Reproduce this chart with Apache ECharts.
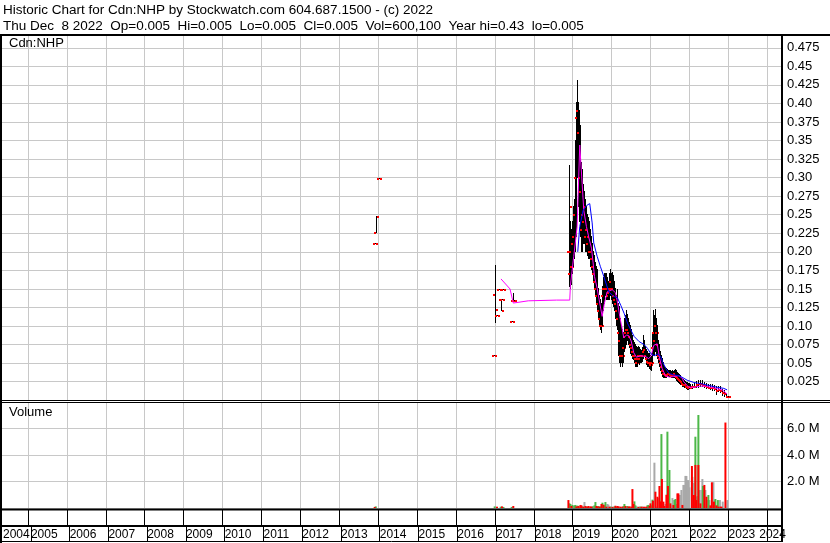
<!DOCTYPE html>
<html><head><meta charset="utf-8">
<script src="https://cdn.jsdelivr.net/npm/echarts@6/dist/echarts.min.js"></script>
<style>html,body{margin:0;padding:0;background:#fff}#c{width:830px;height:543px}</style>
</head><body><div id="c"></div>
<script>
// ---------- texts ----------
const headerLine1 = 'Historic Chart for Cdn:NHP by Stockwatch.com 604.687.1500 - (c) 2022';
const headerLine2 = 'Thu Dec  8 2022  Op=0.005  Hi=0.005  Lo=0.005  Cl=0.005  Vol=600,100  Year hi=0.43  lo=0.005';
const priceTitle = 'Cdn:NHP';
const volumeTitle = 'Volume';

// ---------- axes ----------
const yearTicks = [2005,2006,2007,2008,2009,2010,2011,2012,2013,2014,2015,2016,2017,2018,2019,2020,2021,2022,2023,2024];
const yearLabelPos = [2004.2804,2005,2006,2007,2008,2009,2010,2011,2012,2013,2014,2015,2016,2017,2018,2019,2020,2021,2022,2023,2023.79];
const X_MIN = 2004.2804, X_MAX = 2024.378;
const PRICE_MAX = 0.49225, PRICE_STEP = 0.025;
const VOL_MAX = 8e6, VOL_STEP = 2e6;

// ---------- price bars: [decimal year, open, high, low, close] ----------
const priceBars = [
[2013.910,.21,.21,.21,.21],[2013.938,.225,.2475,.225,.2475],[2014.021,.298,.298,.298,.298],
[2016.976,.06,.06,.06,.06],[2016.994,.142,.181,.104,.121],[2017.053,.113,.113,.113,.113],
[2017.112,.149,.149,.149,.149],[2017.148,.135,.135,.12,.12],[2017.182,.135,.135,.135,.135],
[2017.220,.149,.149,.149,.149],[2017.431,.105,.105,.105,.105],[2017.472,.134,.143,.134,.134],
[2017.503,.134,.134,.134,.134],
[2018.915,.2,.316,.153,.26],[2018.941,.17,.24,.15,.2],[2018.967,.2,.23,.155,.18],[2018.992,.18,.24,.17,.21],
[2019.018,.21,.26,.18,.22],[2019.044,.22,.27,.19,.25],[2019.069,.25,.35,.2,.32],[2019.095,.3,.40,.22,.38],
[2019.121,.38,.43,.30,.39],[2019.146,.39,.40,.26,.36],[2019.172,.36,.39,.24,.30],[2019.198,.3,.37,.22,.28],
[2019.224,.28,.32,.20,.23],[2019.249,.23,.31,.20,.25],[2019.275,.25,.29,.21,.24],[2019.301,.24,.28,.21,.26],
[2019.326,.26,.27,.20,.22],[2019.352,.22,.26,.20,.23],[2019.378,.23,.25,.195,.21],[2019.403,.21,.245,.19,.22],
[2019.429,.22,.24,.19,.20],[2019.455,.2,.23,.18,.2],[2019.481,.2,.22,.175,.19],[2019.506,.19,.21,.17,.18],
[2019.532,.18,.20,.16,.17],[2019.558,.17,.195,.15,.16],[2019.583,.16,.185,.14,.15],[2019.609,.15,.18,.13,.14],
[2019.635,.14,.175,.12,.13],[2019.660,.13,.15,.11,.12],[2019.686,.12,.14,.10,.11],[2019.712,.11,.135,.095,.10],
[2019.738,.10,.13,.09,.10],[2019.763,.10,.153,.10,.14],[2019.789,.14,.165,.12,.15],[2019.815,.15,.17,.13,.15],
[2019.840,.15,.17,.14,.15],[2019.866,.15,.17,.135,.15],[2019.892,.15,.165,.135,.14],[2019.917,.14,.16,.135,.145],
[2019.943,.145,.17,.135,.15],[2019.969,.15,.176,.14,.16],[2019.995,.16,.17,.135,.15],[2020.020,.15,.171,.13,.15],
[2020.046,.15,.167,.125,.14],[2020.072,.14,.16,.12,.135],[2020.097,.135,.15,.11,.13],[2020.123,.13,.14,.10,.12],
[2020.149,.12,.149,.095,.11],[2020.174,.11,.13,.06,.09],[2020.200,.09,.126,.05,.08],[2020.226,.08,.11,.045,.06],
[2020.251,.06,.10,.05,.06],[2020.277,.06,.095,.045,.06],[2020.303,.06,.09,.05,.07],[2020.328,.07,.11,.065,.085],
[2020.354,.085,.113,.07,.09],[2020.380,.09,.12,.075,.095],[2020.406,.095,.115,.08,.095],[2020.431,.095,.11,.075,.09],
[2020.457,.09,.104,.07,.085],[2020.483,.085,.10,.063,.075],[2020.508,.075,.095,.06,.07],[2020.534,.07,.086,.055,.065],
[2020.560,.065,.08,.054,.06],[2020.585,.06,.077,.05,.06],[2020.611,.06,.075,.045,.055],[2020.637,.055,.072,.045,.05],
[2020.662,.05,.07,.045,.055],[2020.688,.055,.072,.05,.06],[2020.714,.06,.07,.048,.055],[2020.740,.055,.068,.05,.06],
[2020.765,.06,.066,.05,.06],[2020.791,.06,.07,.052,.06],[2020.817,.06,.086,.056,.065],[2020.842,.065,.08,.06,.068],
[2020.868,.068,.072,.055,.06],[2020.894,.06,.068,.048,.055],[2020.919,.055,.065,.045,.052],[2020.945,.052,.063,.045,.05],
[2020.971,.05,.062,.042,.05],[2020.997,.05,.06,.041,.048],[2021.022,.048,.058,.04,.05],[2021.048,.05,.09,.05,.07],
[2021.074,.07,.12,.06,.09],[2021.099,.09,.113,.06,.08],[2021.125,.08,.122,.065,.10],[2021.151,.10,.11,.06,.09],
[2021.176,.09,.10,.055,.075],[2021.202,.075,.08,.05,.06],[2021.228,.06,.075,.045,.055],[2021.253,.055,.065,.04,.05],
[2021.279,.05,.06,.035,.045],[2021.305,.045,.055,.032,.04],[2021.330,.04,.05,.03,.035],[2021.356,.035,.045,.03,.035],
[2021.382,.035,.043,.03,.034],[2021.407,.034,.042,.03,.033],[2021.433,.033,.041,.031,.034],[2021.459,.034,.04,.032,.035],
[2021.485,.035,.04,.032,.035],[2021.510,.035,.039,.031,.034],[2021.536,.034,.038,.03,.033],[2021.562,.033,.04,.03,.034],
[2021.587,.034,.038,.03,.034],[2021.613,.034,.04,.03,.035],[2021.639,.035,.041,.028,.033],[2021.664,.033,.04,.026,.032],
[2021.690,.032,.037,.025,.03],[2021.716,.03,.035,.023,.028],[2021.741,.028,.034,.022,.027],[2021.767,.027,.033,.021,.026],
[2021.793,.026,.03,.02,.024],[2021.818,.024,.028,.018,.022],[2021.844,.022,.027,.018,.021],[2021.870,.021,.026,.017,.02],
[2021.896,.02,.025,.016,.02],[2021.921,.02,.023,.015,.018],[2021.947,.018,.023,.014,.018],[2021.972,.018,.022,.014,.017],
[2021.998,.017,.022,.015,.018],[2022.024,.018,.021,.015,.017],[2022.075,.017,.021,.015,.018],[2022.126,.018,.022,.016,.018],
[2022.178,.018,.025,.016,.02],[2022.229,.02,.026,.017,.022],[2022.281,.022,.026,.018,.022],[2022.332,.022,.026,.0175,.02],
[2022.383,.02,.023,.016,.019],[2022.435,.019,.022,.015,.018],[2022.486,.018,.021,.015,.017],[2022.538,.017,.021,.014,.017],
[2022.589,.017,.02,.013,.016],[2022.640,.016,.019,.012,.015],[2022.692,.015,.018,.007,.013],[2022.743,.013,.0175,.011,.014],
[2022.795,.014,.0175,.0095,.012],[2022.846,.012,.014,.006,.01],[2022.897,.01,.012,.005,.008],[2022.950,.008,.008,.004,.005],
[2022.989,.005,.005,.005,.005]
];

// ---------- moving averages: [decimal year, value] ----------
const maShort = [
[2017.156,.1635],[2017.388,.150],[2017.472,.131],[2017.857,.134],[2018.587,.135],[2018.923,.135],[2018.941,.155],
[2019.026,.194],[2019.113,.234],[2019.180,.344],[2019.242,.292],[2019.283,.256],[2019.352,.234],[2019.411,.220],
[2019.481,.205],[2019.524,.185],[2019.558,.167],[2019.627,.151],[2019.694,.131],[2019.756,.113],[2019.815,.131],
[2019.884,.146],[2020.013,.149],[2020.097,.145],[2020.157,.130],[2020.208,.113],[2020.269,.097],[2020.311,.084],
[2020.380,.088],[2020.439,.087],[2020.501,.080],[2020.568,.064],[2020.637,.058],[2020.740,.060],[2020.868,.059],
[2020.953,.056],[2021.015,.060],[2021.082,.074],[2021.169,.076],[2021.236,.056],[2021.297,.043],[2021.382,.033],
[2021.493,.031],[2021.596,.032],[2021.724,.033],[2021.811,.030],[2021.852,.025],[2021.981,.0175],[2022.110,.0175],
[2022.281,.019],[2022.410,.019],[2022.539,.0175],[2022.667,.016],[2022.839,.014],[2022.968,.0085]
];
const maLong = [
[2019.129,.200],[2019.180,.234],[2019.267,.256],[2019.370,.263],[2019.437,.265],[2019.499,.239],[2019.540,.212],
[2019.627,.194],[2019.712,.180],[2019.797,.167],[2019.925,.146],[2020.054,.140],[2020.149,.138],[2020.234,.128],
[2020.321,.117],[2020.406,.104],[2020.491,.095],[2020.578,.086],[2020.707,.079],[2020.835,.075],[2020.920,.070],
[2021.005,.063],[2021.092,.060],[2021.177,.062],[2021.262,.059],[2021.305,.052],[2021.390,.043],[2021.477,.036],
[2021.606,.034],[2021.735,.033],[2021.811,.031],[2021.940,.027],[2022.110,.024],[2022.326,.022],[2022.495,.020],
[2022.711,.0175],[2022.881,.016],[2022.968,.014]
];

// ---------- volume (millions): [decimal year, volume] ----------
const volFlat = [
[2019.018,.15],[2019.172,.1],[2019.301,.45],[2019.429,.1],[2019.532,.15],[2019.892,.3],[2019.917,.25],[2019.995,.12],
[2020.046,.1],[2020.200,.1],[2020.251,.08],[2020.380,.12],[2020.483,.1],[2020.637,.12],[2020.662,.1],[2020.714,.12],
[2020.791,.12],[2021.099,3.42],[2021.151,.1],[2021.202,.75],[2021.382,.3],[2021.536,.2],[2021.562,.75],[2021.664,.3],
[2021.741,.98],[2021.767,.98],[2021.793,1.36],[2021.844,1.74],[2021.870,1.74],[2021.896,2.42],[2021.921,2.42],
[2021.947,2.1],[2021.972,2.1],[2021.998,1.56],[2022.063,2.3],[2022.075,2.35],[2022.101,1.9],[2022.178,.85],
[2022.204,.9],[2022.255,1.36],[2022.306,1.36],[2022.332,2.19],[2022.409,1.36],[2022.461,.6],[2022.512,.6],
[2022.615,1.95],[2022.640,.6],[2022.782,.6],[2022.855,.48],[2022.975,.6]
];
const volUp = [
[2013.938,.12],[2016.994,.12],[2017.148,.1],[2017.220,.08],[2017.431,.08],
[2018.915,.35],[2018.941,.3],[2018.992,.23],[2019.044,.2],[2019.069,.23],[2019.121,.18],[2019.249,.12],[2019.352,.12],
[2019.506,.12],[2019.558,.2],[2019.583,.45],[2019.660,.15],[2019.712,.12],[2019.763,.4],[2019.815,.2],[2019.840,.45],
[2019.969,.1],[2020.072,.12],[2020.123,.1],[2020.303,.15],[2020.328,.3],[2020.406,.15],[2020.585,.5],[2020.611,.2],
[2020.740,.1],[2020.919,.2],[2020.945,.23],[2021.022,.2],[2021.048,.63],[2021.279,5.58],[2021.433,5.76],[2021.485,2.87],
[2021.613,.6],[2021.639,.68],[2022.152,5.38],[2022.229,7.02],[2022.345,1.66],[2022.358,1.66],[2022.486,.98],
[2022.666,.68],[2022.730,.6]
];
const volDown = [
[2013.910,.08],[2017.053,.1],[2017.182,.12],[2017.472,.15],
[2018.889,.6],[2018.967,.15],[2019.095,.12],[2019.146,.15],[2019.198,.23],[2019.224,.2],[2019.275,.1],[2019.326,.15],
[2019.378,.1],[2019.403,.15],[2019.455,.12],[2019.481,.1],[2019.609,.15],[2019.635,.12],[2019.686,.1],[2019.738,.3],
[2019.789,.25],[2019.866,.1],[2019.943,.1],[2020.020,.08],[2020.097,.17],[2020.149,.15],[2020.174,.12],[2020.226,.1],
[2020.277,.1],[2020.354,.15],[2020.431,.1],[2020.457,.12],[2020.508,.1],[2020.534,1.43],[2020.560,.3],[2020.688,.08],
[2020.765,.1],[2020.817,.08],[2020.842,.1],[2020.868,.05],[2020.894,.1],[2020.971,.15],[2020.997,.35],[2021.061,.55],
[2021.125,1.23],[2021.176,.85],[2021.228,1.66],[2021.253,.5],[2021.292,2.19],[2021.330,.48],[2021.356,.15],
[2021.407,1.0],[2021.446,1.66],[2021.510,.35],[2021.587,.23],[2021.690,1.1],[2021.716,1.1],[2021.818,.23],
[2022.063,3.17],[2022.113,.98],[2022.152,3.25],[2022.178,.6],[2022.229,3.25],[2022.281,.35],[2022.383,1.74],
[2022.435,.85],[2022.538,.2],[2022.576,1.94],[2022.628,.48],[2022.692,.2],[2022.743,.1],[2022.795,.1],[2022.822,.1],
[2022.924,6.45]
];

// ---------- chart ----------
const FONT = '"Liberation Sans", Arial, sans-serif';
const GRID_GRAY = '#c8c8c8';
const TXT = '#000';
const chart = echarts.init(document.getElementById('c'), null, {renderer: 'canvas'});

function priceLabel(v) {
  if (v <= 0) return '';
  let s = v.toFixed(3);
  if (s.endsWith('0')) s = s.slice(0, -1);
  return s;
}
function volLabel(v) {
  if (v <= 0 || v >= VOL_MAX) return '';
  return (v / 1e6).toFixed(1) + ' M';
}
const toVol = arr => arr.map(d => [d[0], d[1] * 1e6]);

function renderOHLC(params, api) {
  const t = api.value(0);
  const o = api.coord([t, api.value(1)]);
  const h = api.coord([t, api.value(2)]);
  const l = api.coord([t, api.value(3)]);
  const c = api.coord([t, api.value(4)]);
  const x = Math.round(h[0]) + 0.5;
  return {
    type: 'group',
    children: [
      {type: 'rect', shape: {x: x - 0.5, y: Math.round(h[1]) - 1, width: 1, height: Math.max(1, Math.round(l[1]) - Math.round(h[1]) + 1)}, style: {fill: '#000'}},
      {type: 'rect', shape: {x: x - 2.5, y: Math.round(o[1]) - 1, width: 2, height: 2}, style: {fill: '#ff0000'}},
      {type: 'rect', shape: {x: x + 0.5, y: Math.round(c[1]) - 1, width: 2, height: 2}, style: {fill: '#ff0000'}}
    ]
  };
}

const xBase = (gi, extra) => Object.assign({
  type: 'value', gridIndex: gi, min: X_MIN, max: X_MAX,
  axisLine: {show: false}, axisLabel: {show: false},
  axisTick: {show: false, customValues: yearTicks},
  splitLine: {show: true, lineStyle: {color: GRID_GRAY, width: 1}}
}, extra || {});

function hline(y, x1, x2, w) {
  return {type: 'line', silent: true, z: 100, shape: {x1: x1, y1: y, x2: x2, y2: y}, style: {stroke: '#000', lineWidth: w}};
}
function vline(x, y1, y2, w) {
  return {type: 'line', silent: true, z: 100, shape: {x1: x, y1: y1, x2: x, y2: y2}, style: {stroke: '#000', lineWidth: w}};
}

const option = {
  animation: false,
  backgroundColor: '#fff',
  textStyle: {fontFamily: FONT},
  grid: [
    {left: 0, width: 782, top: 35, height: 365.25},
    {left: 0, width: 782, top: 402, height: 106},
    {left: 0, width: 782, top: 510, height: 16},
    {left: 0, width: 782, top: 527, height: 14.5}
  ],
  xAxis: [
    xBase(0),
    xBase(1),
    xBase(2, {splitLine: {show: true, lineStyle: {color: '#000', width: 1}}}),
    xBase(3, {
      position: 'bottom',
      splitLine: {show: true, lineStyle: {color: '#000', width: 1}},
      axisLabel: {show: true, inside: true, customValues: yearLabelPos, margin: 1, align: 'left', verticalAlign: 'bottom',
        color: TXT, fontSize: 12, fontFamily: FONT,
        formatter: v => String(Math.round(v))}
    })
  ],
  yAxis: [
    {type: 'value', gridIndex: 0, position: 'right', min: 0, max: PRICE_MAX, interval: PRICE_STEP,
      axisLine: {show: false}, axisTick: {show: false},
      axisLabel: {color: TXT, fontSize: 13, fontFamily: FONT, margin: 5, showMaxLabel: false, formatter: priceLabel},
      splitLine: {show: true, lineStyle: {color: GRID_GRAY, width: 1}}},
    {type: 'value', gridIndex: 1, position: 'right', min: 0, max: VOL_MAX, interval: VOL_STEP,
      axisLine: {show: false}, axisTick: {show: false},
      axisLabel: {color: TXT, fontSize: 13, fontFamily: FONT, margin: 5, showMaxLabel: false, formatter: volLabel},
      splitLine: {show: true, lineStyle: {color: GRID_GRAY, width: 1}}},
    {type: 'value', gridIndex: 2, show: false, min: 0, max: 1},
    {type: 'value', gridIndex: 3, show: false, min: 0, max: 1}
  ],
  series: [
    {type: 'custom', name: 'price', xAxisIndex: 0, yAxisIndex: 0, clip: true, renderItem: renderOHLC,
      encode: {x: 0, y: [1, 2, 3, 4]}, data: priceBars, z: 2},
    {type: 'line', name: 'ma short', xAxisIndex: 0, yAxisIndex: 0, data: maShort, showSymbol: false, clip: true,
      lineStyle: {color: '#ff00ff', width: 1}, z: 3},
    {type: 'line', name: 'ma long', xAxisIndex: 0, yAxisIndex: 0, data: maLong, showSymbol: false, clip: true,
      lineStyle: {color: '#0000ff', width: 1}, z: 3},
    {type: 'bar', name: 'vol flat', xAxisIndex: 1, yAxisIndex: 1, data: toVol(volFlat), barWidth: 2, barGap: '-100%',
      itemStyle: {color: '#a9a9a9'}, z: 2},
    {type: 'bar', name: 'vol up', xAxisIndex: 1, yAxisIndex: 1, data: toVol(volUp), barWidth: 2, barGap: '-100%',
      itemStyle: {color: '#4cb848'}, z: 3},
    {type: 'bar', name: 'vol down', xAxisIndex: 1, yAxisIndex: 1, data: toVol(volDown), barWidth: 2, barGap: '-100%',
      itemStyle: {color: '#ff0000'}, z: 4}
  ],
  graphic: [
    {type: 'text', left: 3, top: 2, silent: true, style: {text: headerLine1 + '\n' + headerLine2, fill: TXT,
      font: '13.5px ' + FONT, lineHeight: 16}},
    {type: 'text', left: 9, top: 37, silent: true, z: 100, style: {text: priceTitle, fill: TXT, font: '13px ' + FONT}},
    {type: 'text', left: 9, top: 406, silent: true, z: 100, style: {text: volumeTitle, fill: TXT, font: '13px ' + FONT}},
    hline(35, 0, 830, 2),
    hline(400.5, 0, 830, 1),
    hline(402.5, 0, 830, 1),
    hline(509.5, 0, 783, 2),
    hline(526, 0, 783, 2),
    hline(541.5, 0, 783, 1),
    vline(1, 34, 543, 2),
    vline(782, 34, 542, 2)
  ]
};
chart.setOption(option);
</script></body></html>
